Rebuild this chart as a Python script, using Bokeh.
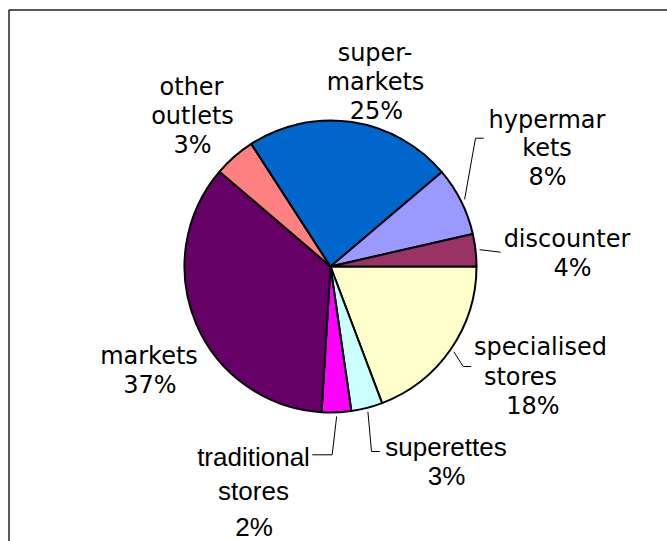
import math
from bokeh.plotting import figure
from bokeh.models import Range1d, ColumnDataSource
from bokeh.core.properties import value
from bokeh.embed import file_html
from bokeh.resources import INLINE

# ---- data (clockwise from 3 o'clock) ----
categories = ["specialised stores", "superettes", "traditional stores", "markets",
              "other outlets", "supermarkets", "hypermarkets", "discounter"]
shares = [19.25, 3.47, 3.25, 35.28, 4.61, 22.94, 7.61, 3.58]
pct_labels = ["18%", "3%", "2%", "37%", "3%", "25%", "8%", "4%"]
label_lines = [["specialised", "stores"], ["superettes"], ["traditional", "stores"],
               ["markets"], ["other", "outlets"], ["super-", "markets"],
               ["hypermar", "kets"], ["discounter"]]
colors = ["#FFFFCC", "#CCFFFF", "#FF00FF", "#660066", "#FF8080", "#0066CC",
          "#9999FF", "#993366"]

# ---- layout (page pixel coordinates) ----
W, H = 667, 541
def X(px): return px
def Y(py): return H - py

center_px = (330, 266)
R = 146

# per-category: line positions (center x, baseline y), pct position
label_pos = [
    [(540, 346), (520, 376), (532.5, 405)],
    [(445.5, 446), (446, 475)],
    [(253, 456.7), (253, 490.7), (253.5, 526)],
    [(148.5, 355), (149.5, 384)],
    [(191, 86.7), (192, 115.7), (192, 144)],
    [(374.5, 52.3), (375, 81), (376, 110)],
    [(546.5, 119), (546.5, 147.5), (547, 176.5)],
    [(566.5, 238), (572, 267)],
]
label_font = ["DejaVu Sans", "Liberation Sans", "Liberation Sans", "DejaVu Sans",
              "DejaVu Sans", "DejaVu Sans", "DejaVu Sans", "DejaVu Sans"]
label_size = {"DejaVu Sans": "24px", "Liberation Sans": "26px"}

# leader lines: after start (computed from slice angle), elbow/end points
leaders = {
    6: [(475, 137.7), (483.3, 137.7)],
    7: [(500, 251.7)],
    0: [(462.7, 366), (470.7, 366)],
    1: [(371, 451), (379.3, 451)],
    2: [(331.7, 454.3), (311.7, 454.3)],
}

p = figure(width=W, height=H, x_range=Range1d(0, W), y_range=Range1d(0, H),
           output_backend="svg", toolbar_location=None, min_border=0,
           x_axis_type=None, y_axis_type=None)
p.grid.visible = False
p.outline_line_color = None
p.background_fill_color = "white"
p.border_fill_color = "white"

# chart border (only left and top edges fall inside the window)
p.line([X(8.5), X(8.5), X(W + 5)], [Y(H + 5), Y(9.5), Y(9.5)],
       line_color="#222222", line_width=1.5)

# wedges
total = sum(shares)
cx, cy = X(center_px[0]), Y(center_px[1])
starts, ends, mids = [], [], []
cum = 0.0
for s in shares:
    a0 = cum / total * 2 * math.pi
    cum += s
    a1 = cum / total * 2 * math.pi
    starts.append(-a1)
    ends.append(-a0)
    mids.append(-(a0 + a1) / 2)

src = ColumnDataSource(dict(x=[cx] * len(shares), y=[cy] * len(shares),
                            start=starts, end=ends, color=colors, name=categories))
p.wedge(x="x", y="y", radius=R, start_angle="start", end_angle="end",
        direction="anticlock", fill_color="color", line_color="black",
        line_width=2, source=src)

# leader lines
for i, pts in leaders.items():
    a = mids[i]
    xs = [cx + (R + 4) * math.cos(a)]
    ys = [cy + (R + 4) * math.sin(a)]
    for (px, py) in pts:
        xs.append(X(px))
        ys.append(Y(py))
    p.line(xs, ys, line_color="black", line_width=1)

# labels
for font in ("DejaVu Sans", "Liberation Sans"):
    tx, ty, tt = [], [], []
    for i in range(len(categories)):
        if label_font[i] != font:
            continue
        lines = label_lines[i] + [pct_labels[i]]
        for txt, (px, py) in zip(lines, label_pos[i]):
            tx.append(X(px))
            ty.append(Y(py))
            tt.append(txt)
    p.text(x=tx, y=ty, text=tt, text_font=value(font),
           text_font_size=label_size[font], text_align="center",
           text_baseline="alphabetic", text_color="black")

open("out.html", "w").write(file_html(p, INLINE))
